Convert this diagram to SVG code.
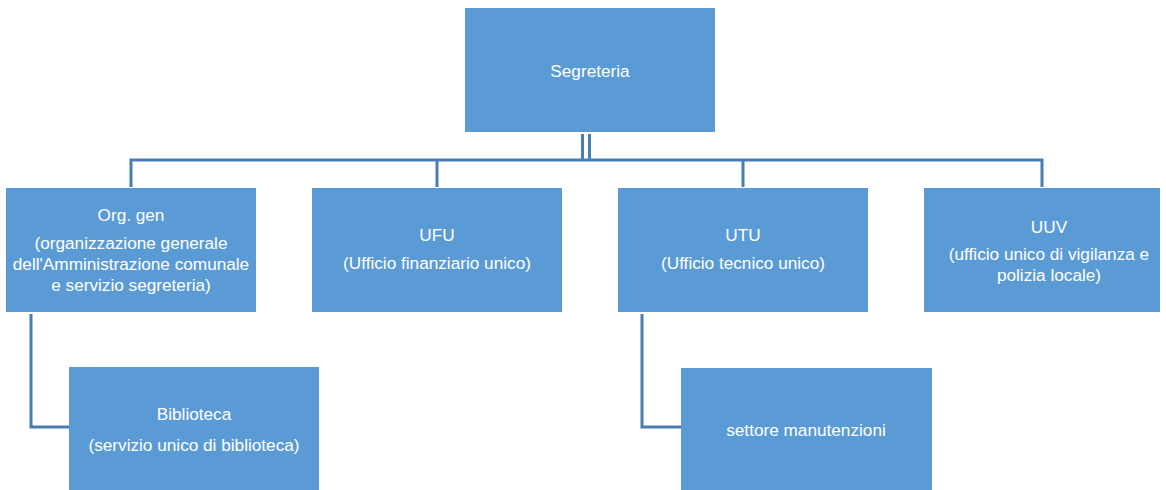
<svg xmlns="http://www.w3.org/2000/svg" width="1166" height="490" viewBox="0 0 1166 490">
<style>
.box{fill:#5b9bd5;}
.t{font-family:"Liberation Sans",Arial,sans-serif;font-size:17.2px;fill:#ffffff;text-anchor:middle;}
.c{fill:none;stroke:#4a7db3;stroke-width:3;}
</style>
<rect width="1166" height="490" fill="#ffffff"/>
<g id="connectors">
<line class="c" x1="582.5" y1="134" x2="582.5" y2="160"/>
<line class="c" x1="589.5" y1="134" x2="589.5" y2="160"/>
<polyline class="c" points="131,187 131,160 1042,160 1042,187"/>
<line class="c" x1="437" y1="160" x2="437" y2="187"/>
<line class="c" x1="743" y1="160" x2="743" y2="187"/>
<polyline class="c" points="31,314 31,427 69,427"/>
<polyline class="c" points="642,314 642,427 681,427"/>
</g>
<g id="segreteria">
<rect class="box" x="465" y="8" width="250" height="124"/>
<text class="t" x="590" y="77">Segreteria</text>
</g>
<g id="orggen">
<rect class="box" x="6" y="188" width="250" height="124"/>
<text class="t" x="131" y="221">Org. gen</text>
<text class="t" x="131" y="249">(organizzazione generale</text>
<text class="t" x="131" y="270">dell'Amministrazione comunale</text>
<text class="t" x="131" y="291">e servizio segreteria)</text>
</g>
<g id="ufu">
<rect class="box" x="312" y="188" width="250" height="124"/>
<text class="t" x="437" y="241">UFU</text>
<text class="t" x="437" y="269">(Ufficio finanziario unico)</text>
</g>
<g id="utu">
<rect class="box" x="618" y="188" width="250" height="124"/>
<text class="t" x="743" y="241">UTU</text>
<text class="t" x="743" y="269">(Ufficio tecnico unico)</text>
</g>
<g id="uuv">
<rect class="box" x="924" y="188" width="236" height="124"/>
<text class="t" x="1049" y="233">UUV</text>
<text class="t" x="1049" y="260">(ufficio unico di vigilanza e</text>
<text class="t" x="1049" y="281">polizia locale)</text>
</g>
<g id="biblioteca">
<rect class="box" x="69" y="367" width="250" height="123"/>
<text class="t" x="194" y="420">Biblioteca</text>
<text class="t" x="194" y="451">(servizio unico di biblioteca)</text>
</g>
<g id="manutenzioni">
<rect class="box" x="681" y="368" width="251" height="122"/>
<text class="t" x="806" y="436">settore manutenzioni</text>
</g>
</svg>
